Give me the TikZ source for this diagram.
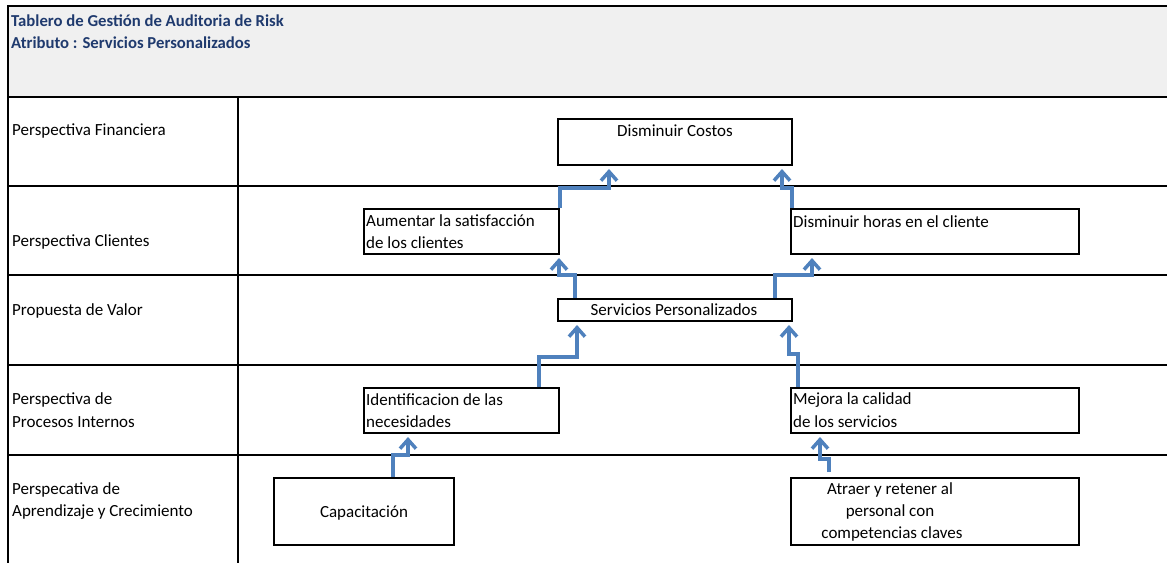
\documentclass[tikz,border=0pt]{standalone}
\usepackage{fontspec}
\setmainfont{Carlito}
\usetikzlibrary{arrows.meta}
\definecolor{arrowblue}{HTML}{4F81BD}
\definecolor{titleblue}{HTML}{1F3A6E}
\definecolor{headgray}{HTML}{F0F0F0}
\begin{document}
\begin{tikzpicture}[x=1pt,y=-1pt,
  grid/.style={line width=2pt, black},
  box/.style={draw, line width=2pt, rectangle, inner sep=0pt, anchor=north west},
  lbl/.style={inner sep=0pt, anchor=west, font=\fontsize{17}{20}\selectfont},
  ctr/.style={inner sep=0pt, font=\fontsize{17}{20}\selectfont},
  ttl/.style={inner sep=0pt, anchor=west, text=titleblue, font=\fontsize{16.7}{20}\bfseries\selectfont},
  arr/.style={draw=arrowblue, line width=3.5pt, line join=miter, -{Straight Barb[length=9pt,width=16pt]}}]
\useasboundingbox (0,0) rectangle (1167,563);
\fill[headgray] (8,6) rectangle (1167,97);
% grid
\draw[grid] (1167,6) -- (8,6) -- (8,563);
\draw[grid] (8,97) -- (1167,97);
\draw[grid] (238,97) -- (238,563);
\foreach \yy in {186,275,365,455} \draw[grid] (8,\yy) -- (1167,\yy);
% title
\node[ttl] (t1) at (11,21) {Tablero de Gestión de Auditoria de Risk};
\node[ttl] (t2) at (11,43) {Atributo : Servicios Personalizados};
% row labels
\node[lbl] (r1) at (12,131) {Perspectiva Financiera};
\node[lbl] (r2) at (12,242) {Perspectiva Clientes};
\node[lbl] (r3) at (12,311) {Propuesta de Valor};
\node[lbl] (r4a) at (12,400) {Perspectiva de};
\node[lbl] (r4b) at (12,422) {Procesos Internos};
\node[lbl] (r5a) at (12,490) {Perspecativa de};
\node[lbl] (r5b) at (12,512) {Aprendizaje y Crecimiento};
% boxes
\node[box, minimum width=234pt, minimum height=46pt] (cost) at (557,118) {};
\node[box, minimum width=195pt, minimum height=45pt] (aum) at (363,208) {};
\node[box, minimum width=288pt, minimum height=45pt] (hor) at (790,208) {};
\node[box, minimum width=234pt, minimum height=22pt] (serv) at (557,298) {};
\node[box, minimum width=195pt, minimum height=45pt] (ident) at (363,387) {};
\node[box, minimum width=288pt, minimum height=45pt] (mej) at (790,387) {};
\node[box, minimum width=180pt, minimum height=67pt] (cap) at (273,477) {};
\node[box, minimum width=288pt, minimum height=67pt] (atr) at (790,477) {};
% box texts
\node[ctr] (costt) at (675,131) {Disminuir Costos};
\node[lbl] (aumt1) at (366,221) {Aumentar la satisfacción};
\node[lbl] (aumt2) at (366,243) {de los clientes};
\node[lbl] (hort) at (793,222) {Disminuir horas en el cliente};
\node[ctr] (servt) at (674,310) {Servicios Personalizados};
\node[lbl] (identt1) at (366,400) {Identificacion de las};
\node[lbl] (identt2) at (366,422) {necesidades};
\node[lbl] (mejt1) at (793,400) {Mejora la calidad};
\node[lbl] (mejt2) at (793,422) {de los servicios};
\node[ctr] (capt) at (364,513) {Capacitación};
\node[ctr] (atrt1) at (890,490) {Atraer y retener al};
\node[ctr] (atrt2) at (890,512) {personal con};
\node[ctr] (atrt3) at (892,534) {competencias claves};
% connectors
\draw[arr] (aum.north east) |- ([xshift=52pt,yshift=-22pt]cost.south west) -- ([xshift=52pt,yshift=-3pt]cost.south west);
\draw[arr] ([xshift=2pt]hor.north west) |- ([xshift=-11pt,yshift=-22pt]cost.south east) -- ([xshift=-11pt,yshift=-3pt]cost.south east);
\draw[arr] ([xshift=18pt]serv.north west) |- ([xshift=-1pt,yshift=-20pt]aum.south east) -- ([xshift=-1pt,yshift=-3pt]aum.south east);
\draw[arr] ([xshift=-18pt]serv.north east) |- ([xshift=22pt,yshift=-20pt]hor.south west) -- ([xshift=22pt,yshift=-3pt]hor.south west);
\draw[arr] ([xshift=176pt]ident.north west) |- ([xshift=20pt,yshift=-35pt]serv.south west) -- ([xshift=20pt,yshift=-3pt]serv.south west);
\draw[arr] ([xshift=8pt]mej.north west) |- ([xshift=-4pt,yshift=-32pt]serv.south east) -- ([xshift=-4pt,yshift=-3pt]serv.south east);
\draw[arr] ([xshift=120pt]cap.north west) |- ([xshift=45pt,yshift=-21pt]ident.south west) -- ([xshift=45pt,yshift=-3pt]ident.south west);
\draw[arr] ([xshift=39pt,yshift=5pt]atr.north west) |- ([xshift=30pt,yshift=-25pt]mej.south west) -- ([xshift=30pt,yshift=-3pt]mej.south west);
\end{tikzpicture}
\end{document}
